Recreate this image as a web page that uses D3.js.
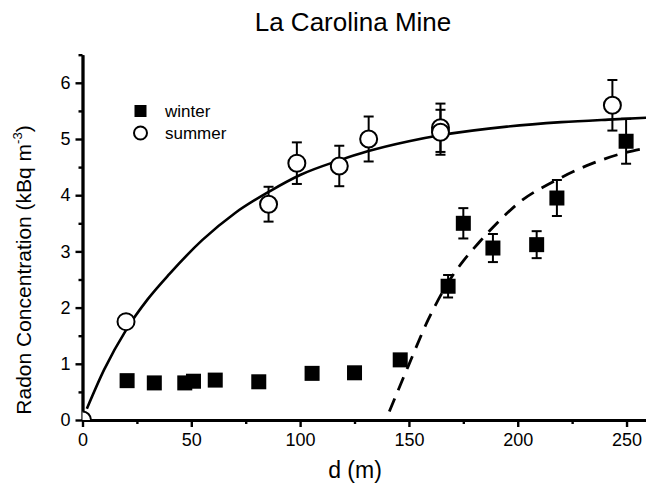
<!DOCTYPE html>
<html>
<head>
<meta charset="utf-8">
<script src="https://cdn.jsdelivr.net/npm/d3@7"></script>
<style>
  body { margin: 0; background: #fff; }
  text { font-family: "Liberation Sans", Arial, sans-serif; fill: #000; }
</style>
</head>
<body>
<svg id="chart"></svg>
<script>
// winter (filled squares)
const winterD = [20.5, 33, 47, 51, 61, 81, 105.5, 125, 146, 168, 175, 188.6, 208.7, 218, 249.8];
const winterC = [0.70, 0.66, 0.66, 0.69, 0.71, 0.68, 0.83, 0.84, 1.07, 2.38, 3.50, 3.06, 3.12, 3.95, 4.96];
const winterErr = [0, 0, 0, 0, 0, 0, 0, 0, 0.08, 0.2, 0.27, 0.25, 0.24, 0.32, 0.4];

// summer (open circles)
const summerD = [0, 20, 85.5, 98.5, 118, 131.5, 164.5, 164.5, 243.5];
const summerC = [0, 1.75, 3.84, 4.57, 4.52, 5.00, 5.20, 5.12, 5.60];
const summerErr = [0, 0, 0.31, 0.37, 0.36, 0.40, 0.43, 0.40, 0.45];

// fitted curves
const fitSummerD = [2, 10, 20, 30, 40, 55, 70, 86, 100, 118, 131, 150, 165, 195, 220, 244, 260];
const fitSummerC = [0.2, 0.9, 1.6, 2.15, 2.6, 3.2, 3.68, 4.07, 4.36, 4.62, 4.78, 4.96, 5.07, 5.22, 5.3, 5.35, 5.38];
const fitWinterD = [141, 149.6, 158.8, 168.9, 175, 182.7, 191.9, 201, 216.3, 234.6, 253, 257];
const fitWinterC = [0.15, 0.95, 1.78, 2.5, 2.83, 3.18, 3.56, 3.88, 4.24, 4.57, 4.79, 4.82];

const xTicks = [0, 50, 100, 150, 200, 250];
const xMinor = [25, 75, 125, 175, 225];
const yTicks = [0, 1, 2, 3, 4, 5, 6];
const yMinor = [0.5, 1.5, 2.5, 3.5, 4.5, 5.5, 6.5];

const width = 646, height = 493;
const svg = d3.select("#chart").attr("width", width).attr("height", height);

const x = d3.scaleLinear().domain([0, 260]).range([82.5, 648.3]);
const y = d3.scaleLinear().domain([0, 6.5]).range([420, 54.7]);

svg.append("clipPath").attr("id", "plot")
  .append("rect").attr("x", x(0)).attr("y", 0).attr("width", width - x(0)).attr("height", y(0));

// title
svg.append("text").attr("x", 353).attr("y", 31).attr("text-anchor", "middle")
  .style("font-size", "26px").text("La Carolina Mine");

// axes
const styleAxis = g => {
  g.select(".domain").attr("stroke-width", 2.8);
  g.selectAll(".tick line").attr("stroke-width", 2.4);
  g.selectAll(".tick text").style("font-size", "18px").style("font-family", "Liberation Sans, Arial, sans-serif");
};

svg.append("g").attr("transform", `translate(0,${y(0)})`)
  .call(d3.axisBottom(x).tickValues(xMinor).tickSize(4).tickSizeOuter(0).tickFormat(""))
  .call(styleAxis);
svg.append("g").attr("transform", `translate(0,${y(0)})`)
  .call(d3.axisBottom(x).tickValues(xTicks).tickSize(7).tickSizeOuter(0).tickPadding(6).tickFormat(d3.format("d")))
  .call(styleAxis);

svg.append("g").attr("transform", `translate(${x(0)},0)`)
  .call(d3.axisLeft(y).tickValues(yMinor).tickSize(4).tickSizeOuter(0).tickFormat(""))
  .call(styleAxis);
svg.append("g").attr("transform", `translate(${x(0)},0)`)
  .call(d3.axisLeft(y).tickValues(yTicks).tickSize(7).tickSizeOuter(0).tickPadding(5).tickFormat(d3.format("d")))
  .call(styleAxis);

// axis titles
svg.append("text").attr("x", 355).attr("y", 478).attr("text-anchor", "middle")
  .style("font-size", "23px").text("d (m)");

const yl = svg.append("text").attr("transform", "translate(31,270) rotate(-90)")
  .attr("text-anchor", "middle").style("font-size", "21px");
yl.append("tspan").text("Radon Concentration (kBq m");
yl.append("tspan").attr("dy", -9).style("font-size", "13px").text("-3");
yl.append("tspan").attr("dy", 9).text(")");

const plot = svg.append("g").attr("clip-path", "url(#plot)");

// fitted lines
const line = d3.line().x(d => x(d[0])).y(d => y(d[1])).curve(d3.curveMonotoneX);
plot.append("path").datum(d3.zip(fitSummerD, fitSummerC))
  .attr("d", line).attr("fill", "none").attr("stroke", "#000").attr("stroke-width", 2.6);
plot.append("path").datum(d3.zip(fitWinterD, fitWinterC))
  .attr("d", line).attr("fill", "none").attr("stroke", "#000").attr("stroke-width", 2.8)
  .attr("stroke-dasharray", "14,9");

// error bars
const errBars = (ds, cs, es) => {
  const g = plot.append("g").attr("stroke", "#000").attr("stroke-width", 2);
  ds.forEach((d, i) => {
    if (!es[i]) return;
    const cx = x(d), lo = y(cs[i] - es[i]), hi = y(cs[i] + es[i]);
    g.append("line").attr("x1", cx).attr("x2", cx).attr("y1", lo).attr("y2", hi);
    g.append("line").attr("x1", cx - 5).attr("x2", cx + 5).attr("y1", lo).attr("y2", lo);
    g.append("line").attr("x1", cx - 5).attr("x2", cx + 5).attr("y1", hi).attr("y2", hi);
  });
};
errBars(winterD, winterC, winterErr);
errBars(summerD, summerC, summerErr);

// markers
const sq = 15;
plot.selectAll("rect.winter").data(d3.zip(winterD, winterC)).join("rect")
  .attr("class", "winter")
  .attr("x", d => x(d[0]) - sq / 2).attr("y", d => y(d[1]) - sq / 2)
  .attr("width", sq).attr("height", sq).attr("fill", "#000");

plot.selectAll("circle.summer").data(d3.zip(summerD, summerC)).join("circle")
  .attr("class", "summer")
  .attr("cx", d => x(d[0])).attr("cy", d => y(d[1])).attr("r", 8.5)
  .attr("fill", "#fff").attr("stroke", "#000").attr("stroke-width", 2);

// legend
const leg = svg.append("g");
leg.append("rect").attr("x", 134.5).attr("y", 105).attr("width", 12).attr("height", 12).attr("fill", "#000");
leg.append("circle").attr("cx", 140.5).attr("cy", 133).attr("r", 6.5)
  .attr("fill", "#fff").attr("stroke", "#000").attr("stroke-width", 2);
leg.append("text").attr("x", 165).attr("y", 117).style("font-size", "17px").text("winter");
leg.append("text").attr("x", 165).attr("y", 139).style("font-size", "17px").text("summer");
</script>
</body>
</html>
